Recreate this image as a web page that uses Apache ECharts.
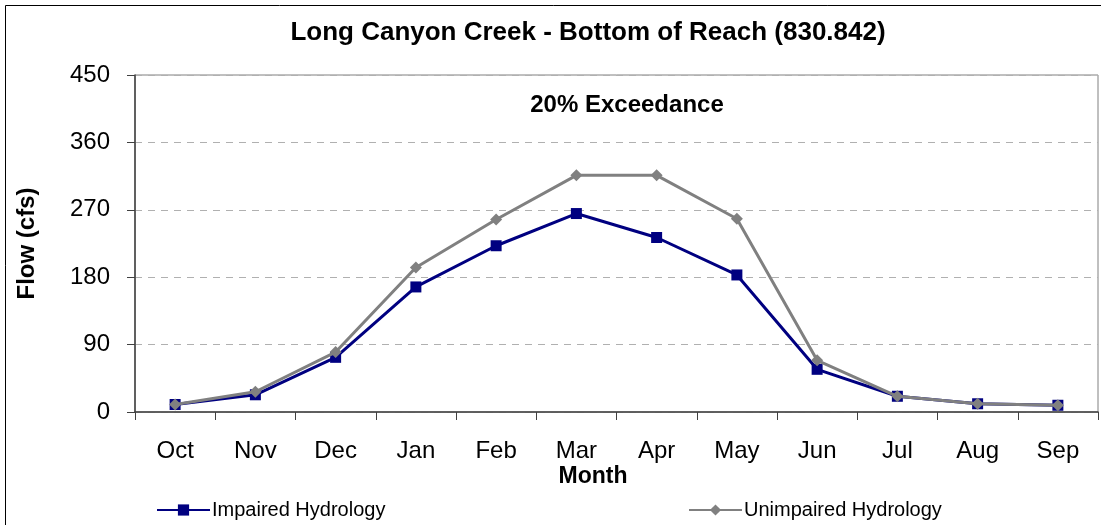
<!DOCTYPE html>
<html>
<head>
<meta charset="utf-8">
<script src="https://cdn.jsdelivr.net/npm/echarts@6/dist/echarts.min.js"></script>
<style>
  html, body { margin: 0; padding: 0; background: #fff; }
  #main { width: 1101px; height: 525px; }
</style>
</head>
<body>
<div id="main"></div>
<script>
// data
var months = ['Oct', 'Nov', 'Dec', 'Jan', 'Feb', 'Mar', 'Apr', 'May', 'Jun', 'Jul', 'Aug', 'Sep'];
var impaired = [10, 23, 73, 167, 222, 265, 233, 183, 57, 21, 11, 9];
var unimpaired = [10, 27, 80, 193, 257, 316, 316, 258, 69, 21, 11, 9];
var yTicks = [0, 90, 180, 270, 360, 450];

var FONT = 'Liberation Sans, Arial, sans-serif';

var myChart = echarts.init(document.getElementById('main'));

var option = {
    animation: false,
    backgroundColor: '#fff',
    textStyle: { fontFamily: FONT },
    title: [
        {
            text: 'Long Canyon Creek - Bottom of Reach (830.842)',
            left: 583, top: 15, textAlign: 'center',
            textStyle: { fontSize: 26, fontWeight: 'bold', color: '#000', fontFamily: FONT }
        },
        {
            text: '20% Exceedance',
            left: 622, top: 88, textAlign: 'center',
            textStyle: { fontSize: 24, fontWeight: 'bold', color: '#000', fontFamily: FONT }
        },
        {
            text: 'Month',
            left: 588, top: 460, textAlign: 'center',
            textStyle: { fontSize: 23, fontWeight: 'bold', color: '#000', fontFamily: FONT }
        }
    ],
    legend: [
        {
            data: ['Impaired Hydrology'],
            left: 151, top: 495,
            itemWidth: 53, itemHeight: 14, itemGap: 0,
            textStyle: { fontSize: 20, color: '#000', fontFamily: FONT, padding: [0, 0, 0, -3] }
        },
        {
            data: ['Unimpaired Hydrology'],
            left: 683, top: 495,
            itemWidth: 53, itemHeight: 14, itemGap: 0,
            textStyle: { fontSize: 20, color: '#000', fontFamily: FONT, padding: [0, 0, 0, -3] }
        }
    ],
    grid: {
        left: 135, right: 3, top: 75, bottom: 113,
        show: true, borderColor: '#808080', borderWidth: 1
    },
    xAxis: {
        type: 'category',
        data: months,
        boundaryGap: true,
        axisLine: { lineStyle: { color: '#404040', width: 1.5 } },
        axisTick: { show: true, length: 8, lineStyle: { color: '#404040' } },
        axisLabel: { fontSize: 24, color: '#000', margin: 27, fontFamily: FONT }
    },
    yAxis: {
        type: 'value',
        min: yTicks[0],
        max: yTicks[yTicks.length - 1],
        interval: yTicks[1] - yTicks[0],
        name: 'Flow (cfs)',
        nameLocation: 'middle',
        nameGap: 96,
        nameRotate: 90,
        nameTextStyle: { fontSize: 24, fontWeight: 'bold', color: '#000', fontFamily: FONT },
        axisLine: { show: true, lineStyle: { color: '#404040', width: 1.5 } },
        axisTick: { show: true, length: 8, lineStyle: { color: '#404040' } },
        axisLabel: { fontSize: 24, color: '#000', margin: 25, fontFamily: FONT },
        splitLine: { show: true, lineStyle: { color: '#b0b0b0', type: [7, 6], width: 1 } }
    },
    series: [
        {
            name: 'Impaired Hydrology',
            type: 'line',
            data: impaired,
            symbol: 'rect',
            symbolSize: 11,
            itemStyle: { color: '#000080' },
            lineStyle: { color: '#000080', width: 3 },
            z: 2
        },
        {
            name: 'Unimpaired Hydrology',
            type: 'line',
            data: unimpaired,
            symbol: 'diamond',
            symbolSize: 12,
            itemStyle: { color: '#808080' },
            lineStyle: { color: '#808080', width: 3 },
            z: 3
        }
    ],
    graphic: [
        {
            type: 'rect',
            shape: { x: 5.5, y: 5.5, width: 1200, height: 600 },
            style: { fill: 'none', stroke: '#000', lineWidth: 1 },
            silent: true
        }
    ]
};

myChart.setOption(option);
window.onresize = function () {
    myChart.resize();
};
</script>
</body>
</html>
